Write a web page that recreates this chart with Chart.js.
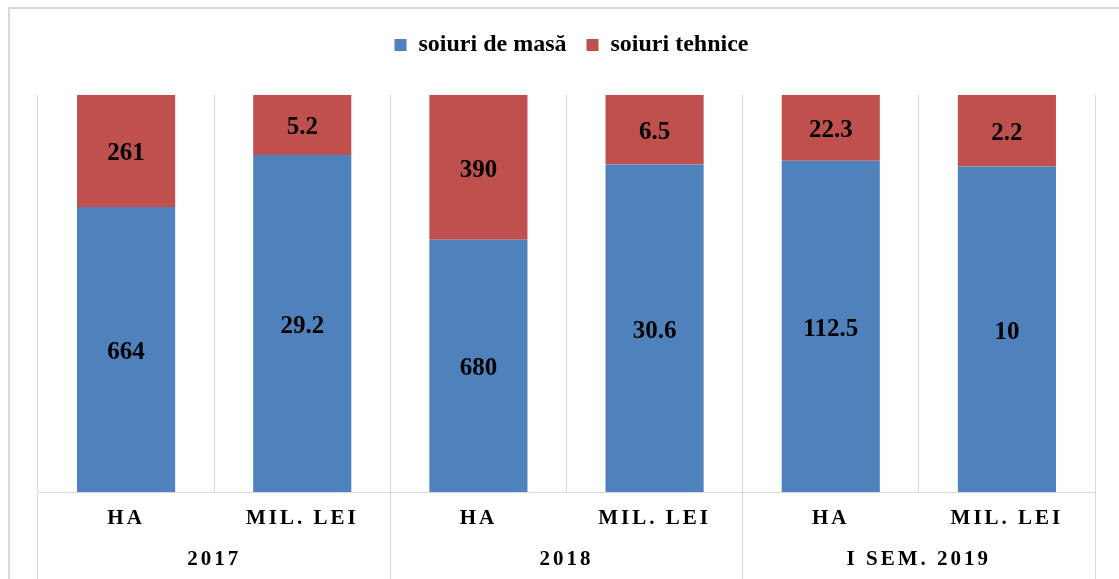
<!DOCTYPE html>
<html>
<head>
<meta charset="utf-8">
<script src="https://cdn.jsdelivr.net/npm/chart.js@4.4.1/dist/chart.umd.min.js"></script>
<style>
  html, body { margin: 0; padding: 0; background: #fff; overflow: hidden; }
  #frame { position: absolute; left: 8px; top: 7px; width: 1200px; height: 700px; border: 2px solid #d9d9d9; }
  #myChart { position: absolute; left: 0; top: 0; }
</style>
</head>
<body>
<div id="frame"></div>
<canvas id="myChart" width="1119" height="579"></canvas>
<script>
// categories
const subLabels = ['HA', 'MIL. LEI', 'HA', 'MIL. LEI', 'HA', 'MIL. LEI'];
const groupLabels = ['2017', '2018', 'I SEM. 2019'];
// series
const seriesNames = ['soiuri de masă', 'soiuri tehnice'];
const masa = [664, 29.2, 680, 30.6, 112.5, 10];
const tehnice = [261, 5.2, 390, 6.5, 22.3, 2.2];

const gridGray = '#d9d9d9';
const serif = 'Liberation Serif, Times New Roman, serif';

// 100% stacked: share of each category total
const toPct = (arr) => arr.map((v, i) => v / (masa[i] + tehnice[i]) * 100);

const valueLabels = {
  id: 'valueLabels',
  beforeInit(chart) {
    // extra room under the legend, nudge it a bit right
    const fit = chart.legend.fit;
    chart.legend.fit = function () {
      fit.bind(this)();
      this.height = 82;
      this.lineWidths = this.lineWidths.map(w => w - 10);
    };
  },
  afterDatasetsDraw(chart) {
    const ctx = chart.ctx;
    ctx.save();
    ctx.font = 'bold 25px ' + serif;
    ctx.fillStyle = '#000';
    ctx.textAlign = 'center';
    ctx.textBaseline = 'middle';
    chart.data.datasets.forEach((ds, di) => {
      chart.getDatasetMeta(di).data.forEach((bar, i) => {
        const p = bar.getProps(['x', 'y', 'base'], true);
        ctx.fillText(String(ds.raw[i]), p.x, (p.y + p.base) / 2 + 3);
      });
    });
    ctx.restore();
    // spaced capitals on the category axis (drawn after this hook)
    ctx.letterSpacing = '3px';
  },
  afterDraw(chart) {
    chart.ctx.letterSpacing = '0px';
  }
};

new Chart(document.getElementById('myChart').getContext('2d'), {
  type: 'bar',
  data: {
    labels: subLabels,
    datasets: [{
      label: seriesNames[0],
      data: toPct(masa),
      raw: masa,
      backgroundColor: '#4f81bd'
    }, {
      label: seriesNames[1],
      data: toPct(tehnice),
      raw: tehnice,
      backgroundColor: '#c0504d'
    }]
  },
  options: {
    responsive: false,
    animation: false,
    barPercentage: 0.557,
    categoryPercentage: 1,
    layout: { padding: { top: 13, left: 38, right: 24, bottom: 0 } },
    scales: {
      x: {
        stacked: true,
        afterFit: (s) => { s.height = 44; },
        grid: {
          color: gridGray,
          tickLength: 44,
          tickColor: (c) => (c.index === undefined || c.index % 2 === 0) ? gridGray : 'rgba(0,0,0,0)'
        },
        border: { color: gridGray },
        ticks: {
          z: 1,
          autoSkip: false,
          maxRotation: 0,
          padding: -30,
          color: '#000',
          font: { family: serif, size: 21, weight: 'bold' }
        }
      },
      x2: {
        type: 'category',
        labels: groupLabels,
        position: 'bottom',
        offset: true,
        afterFit: (s) => { s.height = 43; },
        grid: { offset: true, drawOnChartArea: false, color: gridGray, tickLength: 43 },
        border: { display: false },
        ticks: {
          z: 1,
          autoSkip: false,
          maxRotation: 0,
          padding: -32,
          color: '#000',
          font: { family: serif, size: 21, weight: 'bold' }
        }
      },
      y: {
        stacked: true,
        display: false,
        min: 0,
        max: 100
      }
    },
    plugins: {
      legend: {
        position: 'top',
        labels: {
          boxWidth: 12,
          boxHeight: 12,
          padding: 20,
          color: '#000',
          font: { family: serif, size: 24, weight: 'bold' }
        }
      },
      tooltip: { enabled: false }
    }
  },
  plugins: [valueLabels]
});
</script>
</body>
</html>
